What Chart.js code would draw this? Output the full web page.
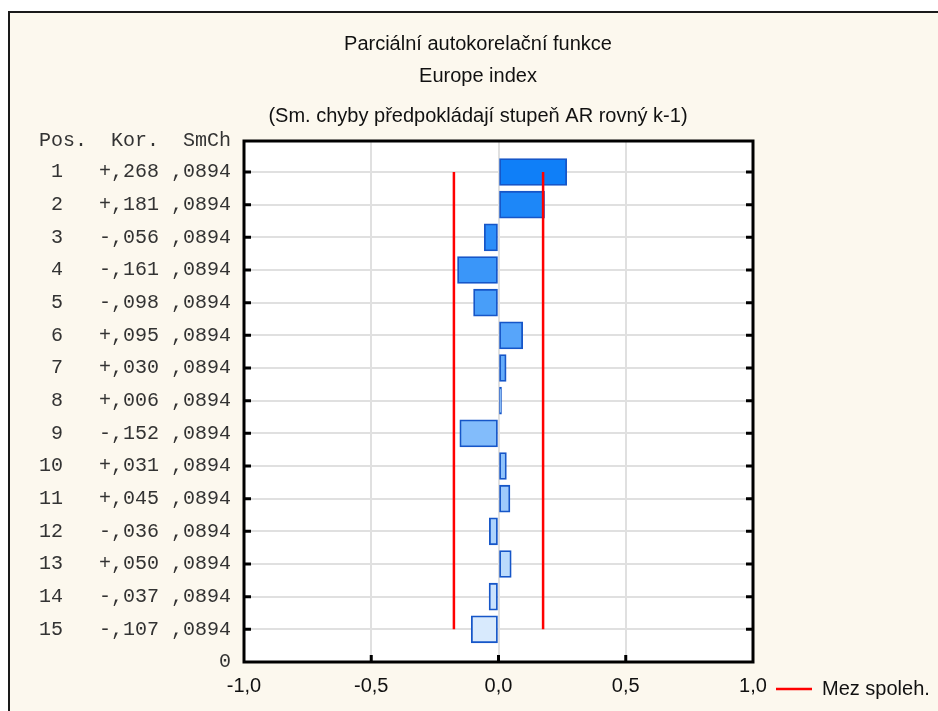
<!DOCTYPE html>
<html lang="cs">
<head>
    <meta charset="UTF-8" />
    <title>Parciální autokorelační funkce</title>
    <script src="https://cdn.jsdelivr.net/npm/chart.js"></script>
    <style>
        html, body {
            margin: 0;
            padding: 0;
            background: #fff;
            overflow: hidden;
        }

        #frame {
            position: absolute;
            left: 8px;
            top: 11px;
            width: 960px;
            height: 720px;
            background: #fcf8ee;
            border-left: 2px solid #1a1a1a;
            border-top: 2px solid #1a1a1a;
        }

        #chart {
            position: absolute;
            left: 0;
            top: 0;
        }
    </style>
</head>
<body>
    <div id="frame"></div>
    <canvas id="chart" width="938" height="711"></canvas>

    <script>
        // data
        const lags = [1, 2, 3, 4, 5, 6, 7, 8, 9, 10, 11, 12, 13, 14, 15];
        const korelace = [0.268, 0.181, -0.056, -0.161, -0.098, 0.095, 0.030, 0.006,
                          -0.152, 0.031, 0.045, -0.036, 0.050, -0.037, -0.107];
        const smChyby = [0.0894, 0.0894, 0.0894, 0.0894, 0.0894, 0.0894, 0.0894, 0.0894,
                         0.0894, 0.0894, 0.0894, 0.0894, 0.0894, 0.0894, 0.0894];
        const mezSpoleh = 0.1752;
        const xTicks = [-1, -0.5, 0, 0.5, 1];
        const yTicks = [0.05, 1, 2, 3, 4, 5, 6, 7, 8, 9, 10, 11, 12, 13, 14, 15, 16];
        const titles = [
            "Parciální autokorelační funkce",
            "Europe index",
            "(Sm. chyby předpokládají stupeň AR rovný k-1)"
        ];
        const headerLabel = "Pos.  Kor.  SmCh";
        const legendLabel = "Mez spoleh.";

        const SANS = "'Liberation Sans', Arial, sans-serif";
        const MONO = "'Liberation Mono', 'Courier New', monospace";

        // bar colours go from dark blue (lag 1) to pale blue (lag 15)
        const dark = [15, 127, 248], pale = [216, 234, 253];
        const barColors = lags.map((l, i) => {
            const t = i / (lags.length - 1);
            const c = dark.map((d, k) => Math.round(d + (pale[k] - d) * t));
            return `rgb(${c[0]},${c[1]},${c[2]})`;
        });

        function fmtKor(v) {
            return (v >= 0 ? "+" : "-") + "," + String(Math.round(Math.abs(v) * 1000)).padStart(3, "0");
        }
        function fmtSe(v) {
            return "," + String(Math.round(v * 10000)).padStart(4, "0");
        }
        function rowLabel(lag) {
            const i = lags.indexOf(lag);
            return String(lag).padStart(2, " ") + "   " + fmtKor(korelace[i]) + " " + fmtSe(smChyby[i]);
        }

        const decor = {
            id: "decor",
            beforeDatasetsDraw(chart) {
                const a = chart.chartArea, ctx = chart.ctx;
                ctx.save();
                ctx.fillStyle = "#fff";
                ctx.globalCompositeOperation = "destination-over";
                ctx.fillRect(a.left, a.top, a.right - a.left, a.bottom - a.top);
                ctx.restore();
            },
            afterDraw(chart) {
                const a = chart.chartArea, ctx = chart.ctx;
                const xs = chart.scales.x, ys = chart.scales.y;
                ctx.save();
                // frame round the plot
                ctx.strokeStyle = "#000";
                ctx.lineWidth = 3;
                ctx.strokeRect(a.left, a.top, a.right - a.left, a.bottom - a.top);
                // inward tick marks
                ctx.lineWidth = 3;
                ctx.beginPath();
                lags.forEach(l => {
                    const y = ys.getPixelForValue(l);
                    ctx.moveTo(a.left, y); ctx.lineTo(a.left + 7, y);
                    ctx.moveTo(a.right - 7, y); ctx.lineTo(a.right, y);
                });
                xTicks.slice(1, -1).forEach(v => {
                    const x = xs.getPixelForValue(v);
                    ctx.moveTo(x, a.bottom); ctx.lineTo(x, a.bottom - 7);
                });
                ctx.stroke();

                // titles
                ctx.fillStyle = "#111";
                ctx.font = "20px " + SANS;
                ctx.textAlign = "center";
                ctx.textBaseline = "middle";
                const ty = [44, 76, 116];
                titles.forEach((t, i) => ctx.fillText(t, 478, ty[i]));

                // legend
                const ly = 689;
                ctx.strokeStyle = "#ff0000";
                ctx.lineWidth = 2.5;
                ctx.beginPath();
                ctx.moveTo(776, ly); ctx.lineTo(812, ly);
                ctx.stroke();
                ctx.textAlign = "left";
                ctx.fillText(legendLabel, 822, ly);
                ctx.restore();
            }
        };

        new Chart(document.getElementById("chart"), {
            data: {
                datasets: [
                    {
                        type: "bar",
                        data: lags.map((l, i) => ({ x: korelace[i], y: l })),
                        backgroundColor: barColors,
                        borderColor: "#1656c8",
                        borderWidth: 1.8,
                        borderSkipped: false,
                        barThickness: 27,
                        minBarLength: 3,
                        order: 2
                    },
                    {
                        type: "line",
                        label: legendLabel,
                        data: [{ x: -mezSpoleh, y: lags[0] }, { x: -mezSpoleh, y: lags[lags.length - 1] }],
                        borderColor: "#ff0000",
                        borderWidth: 2.5,
                        pointRadius: 0,
                        order: 1
                    },
                    {
                        type: "line",
                        label: legendLabel,
                        data: [{ x: mezSpoleh, y: lags[0] }, { x: mezSpoleh, y: lags[lags.length - 1] }],
                        borderColor: "#ff0000",
                        borderWidth: 2.5,
                        pointRadius: 0,
                        order: 1
                    }
                ]
            },
            options: {
                responsive: false,
                animation: false,
                indexAxis: "y",
                layout: { padding: { top: 141, right: 185, bottom: 0, left: 0 } },
                plugins: {
                    legend: { display: false },
                    tooltip: { enabled: false }
                },
                scales: {
                    x: {
                        type: "linear",
                        min: -1,
                        max: 1,
                        offset: false,
                        afterBuildTicks: s => { s.ticks = xTicks.map(v => ({ value: v })); },
                        afterFit: s => { s.height = 49; },
                        grid: { color: "#e0e0e0", lineWidth: 2, drawTicks: false, offset: false },
                        border: { display: false },
                        ticks: {
                            padding: 12,
                            color: "#111",
                            font: { family: SANS, size: 20 },
                            maxRotation: 0,
                            autoSkip: false,
                            callback: v => Number(v).toFixed(1).replace(".", ",")
                        }
                    },
                    y: {
                        type: "linear",
                        reverse: true,
                        min: 0.05,
                        max: 16,
                        offset: false,
                        afterBuildTicks: s => { s.ticks = yTicks.map(v => ({ value: v })); },
                        afterFit: s => { s.width = 244; },
                        grid: { color: "#e0e0e0", lineWidth: 2, drawTicks: false, offset: false },
                        border: { display: false },
                        ticks: {
                            padding: 13,
                            color: "#333",
                            font: { family: MONO, size: 20 },
                            autoSkip: false,
                            callback: v => {
                                if (v === 16) return "0";
                                if (v < 1) return headerLabel;
                                return rowLabel(v);
                            }
                        }
                    }
                }
            },
            plugins: [decor]
        });
    </script>
</body>
</html>
